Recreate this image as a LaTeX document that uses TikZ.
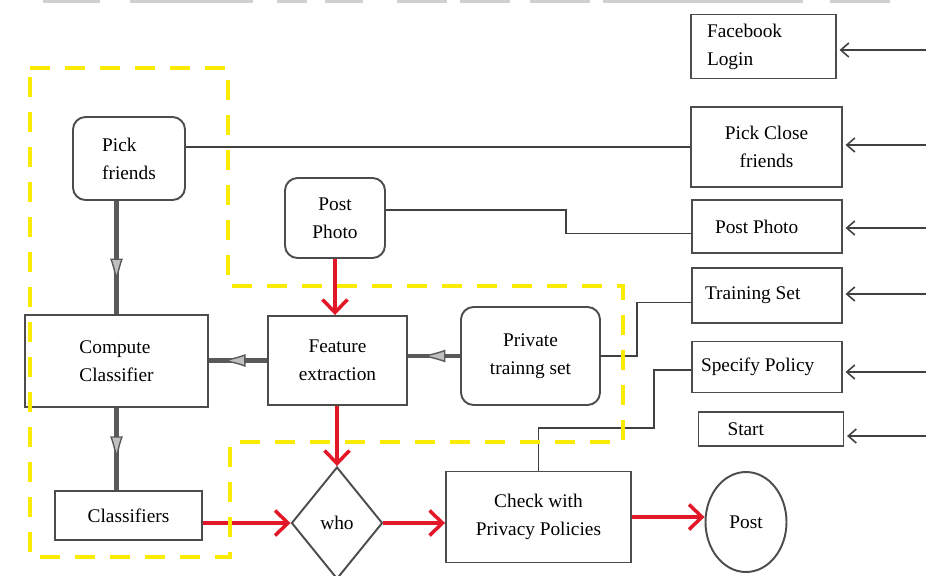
\documentclass[tikz,border=0pt]{standalone}
\usepackage{fontspec}
\setmainfont{Liberation Serif}
\usepackage{tikz}
\usetikzlibrary{arrows.meta,calc,shapes.geometric,decorations.markings}
\definecolor{flowred}{RGB}{226,24,40}
\definecolor{zoneyellow}{RGB}{250,236,0}
\definecolor{topgray}{RGB}{208,208,208}
\tikzset{
	>=latex,
	box/.style={draw=black!70, line width=1.1pt, inner sep=0pt, align=center,
		text=black, font=\fontsize{11}{16}\selectfont},
	leftbox/.style 2 args={box, align=flush left, inner xsep=#1, text width=#2},
	roundbox/.style={box, rounded corners=0.25cm},
	feed/.style={draw=black!75, line width=0.9pt},
	inarrow/.style={feed, shorten >=1.5pt, -{Straight Barb[length=1.6mm,width=2.8mm]}},
	flow/.style={draw=flowred, line width=2pt, -{Straight Barb[length=2.6mm,width=5mm]}},
	fat/.style={draw=black!65, line width=2.6pt, postaction={decorate},
		decoration={markings, mark=at position #1 with
			{\arrow{Latex[length=0.5cm,width=0.26cm,fill=gray!50,line width=0.8pt]}}}},
	zone/.style={draw=zoneyellow, line width=2.8pt, dash pattern=on 0.4cm off 0.3cm}
}

\begin{document}
\begin{tikzpicture}[x=0.02cm, y=-0.02cm]
		% one unit = one pixel of the sketch
		\def\pix{0.02cm}
		\useasboundingbox (0,0) rectangle (926,575);
		
		% leftover bar at the top
		\foreach \a/\b in {43/100,130/253,277/307,325/363,397/447,460/510,530/590,603/803,830/890}
			\fill[topgray] (\a,0) rectangle (\b,3);
		
		% input boxes on the right
		\node[leftbox={0.32cm}{2.26cm}, minimum height=64*\pix] (fblogin) at (763.5,46.5) {Facebook\\Login};
		\node[box, minimum width=151*\pix, minimum height=80*\pix] (pickclose) at (766.5,147) {Pick Close\\friends};
		\node[leftbox={0.46cm}{2.08cm}, minimum height=53*\pix] (postright) at (767,226.5) {Post Photo};
		\node[leftbox={0.26cm}{2.48cm}, minimum height=55*\pix] (trainset) at (767,295.5) {Training Set};
		\node[leftbox={0.18cm}{2.64cm}, minimum height=51*\pix] (policy) at (767,367) {Specify Policy};
		\node[leftbox={0.58cm}{1.74cm}, minimum height=34*\pix] (start) at (771,429) {Start};
		
		% arrows coming in from the edge
		\foreach \n/\yy in {fblogin/50,pickclose/145,postright/228,trainset/294,policy/372,start/436}{
			\coordinate (in-\n) at (926,\yy);
			\draw[inarrow] (in-\n) -- (in-\n -| \n.east);
		}
		
		% processing blocks
		\node[roundbox, minimum width=112*\pix, minimum height=83*\pix, align=left] (pickfr) at (129,158.5) {Pick\\friends};
		\node[roundbox, minimum width=100*\pix, minimum height=80*\pix] (postph) at (335,218) {Post\\Photo};
		\node[box, minimum width=183*\pix, minimum height=92*\pix, align=left] (compute) at (116.5,361) {Compute\\Classifier};
		\node[box, minimum width=139*\pix, minimum height=89*\pix] (feature) at (337.5,360.5) {Feature\\extraction};
		\node[roundbox, minimum width=139*\pix, minimum height=98*\pix] (private) at (530.5,356) {Private\\trainng set};
		\node[box, minimum width=147*\pix, minimum height=49*\pix] (classif) at (128.5,515.5) {Classifiers};
		\node[box, diamond, minimum width=91*\pix, minimum height=112*\pix] (who) at (337,523) {who};
		\node[box, minimum width=185*\pix, minimum height=91*\pix] (check) at (538.5,517) {Check with\\Privacy Policies};
		\node[box, ellipse, minimum width=81*\pix, minimum height=100*\pix] (post) at (746,522) {Post};
		
		% thin links to the input boxes
		\draw[feed] (pickfr.east |- pickclose.west) -- (pickclose.west);
		\draw[feed] ($(postph.east)+(0,-8)$) -| ($(postright.west)+(-125,7)$) -- ($(postright.west)+(0,7)$);
		\draw[feed] (private.east) -| ($(trainset.west)+(-54,7)$) -- ($(trainset.west)+(0,7)$);
		\draw[feed] ($(policy.west)+(0,3)$) -| ($(policy.west)+(-37,61)$) -| (check.north);
		
		% training path
		\draw[fat=0.73] (pickfr.south -| compute.north) -- (compute.north);
		\draw[fat=0.65] (compute.south) -- (compute.south |- classif.north);
		\draw[fat=0.8] (feature.west) -- (feature.west -| compute.east);
		\draw[fat=0.76] (private.west) -- (private.west -| feature.east);
		
		% posting path
		\draw[flow] (postph.south) -- (postph.south |- feature.north);
		\draw[flow] (feature.south -| who.north) -- (who.north);
		\draw[flow] (classif.east |- who.west) -- (who.west);
		\draw[flow] (who.east) -- (who.east -| check.west);
		\draw[flow] (check.east) -- (check.east -| post.west);
		
		% dashed region
		\draw[zone] (30,68) -- (228,68) -- (228,286) -- (623,286) -- (623,442)
			-- (230,442) -- (230,557) -- (30,557) -- cycle;
		
	\end{tikzpicture}
\end{document}
